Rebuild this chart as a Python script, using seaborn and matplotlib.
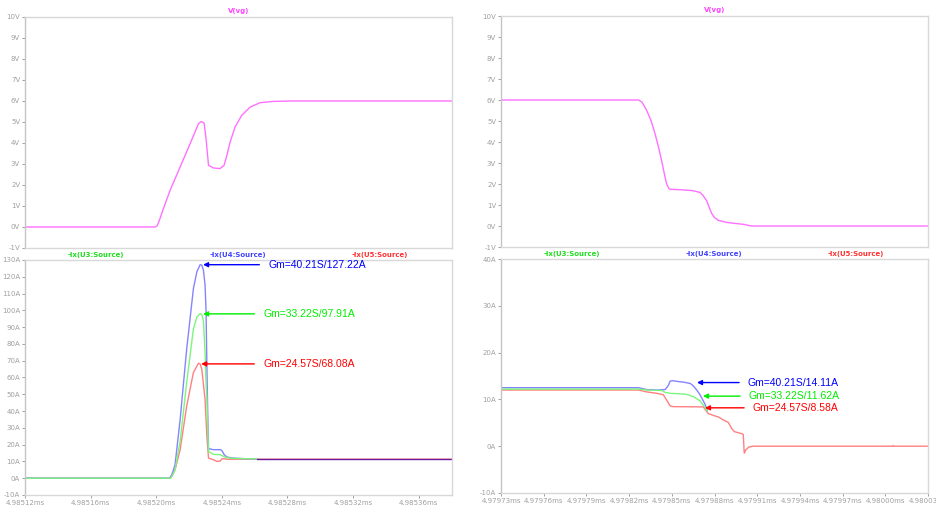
import matplotlib
matplotlib.use("Agg")
import matplotlib.pyplot as plt
import seaborn as sns

# ---- data (time in ns from the left edge of each window) ----
# turn-on window, starts at 4.98512ms
on_vg_t = [0, 79.3, 80.5, 81.4, 84.4, 88.5, 94.6, 100.7, 105.8, 107.4, 109.2, 110.4, 111.9,
           114.9, 119.0, 121.4, 123.1, 125.1, 128.1, 132.2, 137.3, 143.4, 151.5, 161.7, 260.4]
on_vg_v = [0, 0, 0.05, 0.2, 0.87, 1.75, 2.86, 3.97, 4.92, 5.02, 4.95, 4.2, 2.94,
           2.81, 2.78, 2.94, 3.41, 4.05, 4.76, 5.32, 5.71, 5.92, 5.98, 6.0, 6.0]

on_u4_t = [0, 87.5, 88.5, 89.5, 91.5, 94.6, 98.6, 102.7, 104.8, 106.8, 107.8, 108.8, 109.8,
           110.4, 110.9, 111.4, 111.9, 114.9, 119.0, 120.0, 121.5, 123.1, 127.1, 134.2, 141.4]
on_u4_i = [0, 0, 0.5, 2, 8, 35, 77, 113, 123, 127.2, 127, 124, 115,
           100, 67, 40, 17.6, 17, 17, 16.5, 14, 12.6, 12, 11.6, 11.5]

on_u3_t = [0, 88.5, 89.5, 91.5, 94.6, 98.6, 102.7, 104.8, 106.8, 107.8, 108.8, 109.8,
           110.4, 110.9, 111.4, 111.9, 114.9, 119.0, 120.0, 123.1, 127.1, 141.4]
on_u3_i = [0, 0, 1, 5, 22, 57, 89, 96, 98, 97.5, 94, 75,
           57, 48, 30, 16, 14.2, 14, 13.5, 12.2, 11.8, 11.5]

on_u5_t = [0, 88.5, 89.5, 91.5, 94.6, 98.6, 102.7, 105.8, 106.8, 107.8, 109.8, 110.9,
           111.9, 114.9, 117.0, 119.0, 120.0, 121.5, 123.1, 127.1, 260.4]
on_u5_i = [0, 0, 1, 5, 17, 43, 63, 68.5, 68.1, 65, 47, 25,
           12, 11, 10, 10.2, 11.5, 11.6, 11.3, 11.3, 11.3]

on_tail_t = [141.4, 260.4]
on_tail_i = [11.6, 11.6]

# turn-off window, starts at 4.97973ms
off_vg_t = [0, 96.6, 99.0, 102.4, 105.5, 108.2, 110.5, 112.9, 115.0, 116.4, 118.0, 118.8, 128.1,
            135.0, 139.8, 142.0, 144.5, 146.5, 148.0, 150.0, 152.7, 158.5, 165.0, 170.2, 176.1, 300]
off_vg_v = [6.0, 6.0, 5.9, 5.5, 5.0, 4.4, 3.8, 3.1, 2.4, 2.0, 1.78, 1.75, 1.72,
            1.68, 1.6, 1.45, 1.2, 0.85, 0.6, 0.4, 0.27, 0.17, 0.12, 0.08, 0.0, 0.0]

off_u4_t = [0, 96.6, 102.4, 110.0, 115.3, 117.6, 118.8, 120.5, 125.0, 128.1, 133.0,
            135.1, 137.5, 139.8, 143.3, 145.0]
off_u4_i = [12.5, 12.5, 12.1, 12.0, 12.1, 13.0, 13.9, 14.0, 13.8, 13.7, 13.4,
            12.9, 12.0, 11.0, 9.0, 7.6]

off_u3_t = [0, 96.6, 102.4, 113.0, 115.3, 118.8, 125.0, 130.0, 135.1, 139.8, 143.3, 145.0]
off_u3_i = [12.2, 12.2, 12.0, 11.9, 11.5, 11.3, 11.2, 11.1, 10.6, 9.7, 8.3, 7.5]

off_u5_t = [0, 96.6, 102.4, 109.4, 114.0, 116.5, 118.8, 121.0, 142.1, 145.5, 149.0, 153.0,
            156.2, 159.7, 162.0, 164.0, 169.0, 170.2, 170.9, 172.0, 174.0, 177.0, 275.0, 275.4,
            276.0, 300]
off_u5_i = [12.0, 12.0, 11.6, 11.3, 11.0, 9.8, 8.6, 8.45, 8.4, 7.0, 6.6, 6.2,
            5.6, 5.1, 3.8, 3.1, 2.7, 2.5, -1.5, -0.8, -0.2, 0.0, 0.0, 0.15,
            0.0, 0.0]

on_xticks = [0, 40, 80, 120, 160, 200, 240]
on_xlabels = ['4.98512ms', '4.98516ms', '4.98520ms', '4.98524ms', '4.98528ms', '4.98532ms', '4.98536ms']
off_xticks = [0, 30, 60, 90, 120, 150, 180, 210, 240, 270, 300]
off_xlabels = ['4.97973ms', '4.97976ms', '4.97979ms', '4.97982ms', '4.97985ms', '4.97988ms',
               '4.97991ms', '4.97994ms', '4.97997ms', '4.98000ms', '4.98003ms']

v_ticks = list(range(-1, 11))
on_i_ticks = list(range(-10, 131, 10))
off_i_ticks = list(range(-10, 41, 10))

trace_names = ['-Ix(U3:Source)', '-Ix(U4:Source)', '-Ix(U5:Source)']
on_notes = ['Gm=40.21S/127.22A', 'Gm=33.22S/97.91A', 'Gm=24.57S/68.08A']
off_notes = ['Gm=40.21S/14.11A', 'Gm=33.22S/11.62A', 'Gm=24.57S/8.58A']

# colours
c_vg = '#ff70ff'
c_u3, c_u4, c_u5 = '#7cf57c', '#8484ff', '#ff8080'
c_tail = '#6a1a9a'
note_cols = ['#0000ff', '#00ee00', '#ff0000']
trace_cols = ['#22dd22', '#4444ff', '#ff3333']

sns.set_style('white')
plt.rcParams['font.family'] = ['DejaVu Sans']

fig = plt.figure(figsize=(9.37, 5.13), dpi=100)
ax_on_v = fig.add_axes([0.0267, 0.5166, 0.4557, 0.4503])
ax_on_i = fig.add_axes([0.0267, 0.0351, 0.4557, 0.4581])
ax_off_v = fig.add_axes([0.5347, 0.5185, 0.4557, 0.4503])
ax_off_i = fig.add_axes([0.5347, 0.0390, 0.4557, 0.4561])

lw = 1.0
sns.lineplot(x=on_vg_t, y=on_vg_v, ax=ax_on_v, color=c_vg, lw=lw)
sns.lineplot(x=off_vg_t, y=off_vg_v, ax=ax_off_v, color=c_vg, lw=lw)

sns.lineplot(x=on_u5_t, y=on_u5_i, ax=ax_on_i, color=c_u5, lw=lw)
sns.lineplot(x=on_u4_t, y=on_u4_i, ax=ax_on_i, color=c_u4, lw=lw)
sns.lineplot(x=on_u3_t, y=on_u3_i, ax=ax_on_i, color=c_u3, lw=lw)
sns.lineplot(x=on_tail_t, y=on_tail_i, ax=ax_on_i, color=c_tail, lw=lw)

sns.lineplot(x=off_u5_t, y=off_u5_i, ax=ax_off_i, color=c_u5, lw=lw)
sns.lineplot(x=off_u4_t, y=off_u4_i, ax=ax_off_i, color=c_u4, lw=lw)
sns.lineplot(x=off_u3_t, y=off_u3_i, ax=ax_off_i, color=c_u3, lw=lw)


def style(ax, xmax, yticks, unit, xticks=None, xlabels=None):
    ax.set_xlim(0, xmax)
    ax.set_ylim(yticks[0], yticks[-1])
    ax.set_yticks(yticks)
    ax.set_yticklabels([f'{v}{unit}' for v in yticks])
    if xticks is None:
        ax.set_xticks([])
    else:
        ax.set_xticks(xticks)
        ax.set_xticklabels(xlabels)
    ax.tick_params(axis='both', labelsize=5, colors='#a0a0a0', length=2.5, width=0.7, pad=1,
                   direction='out', left=True, bottom=xticks is not None)
    for s in ax.spines.values():
        s.set_color('#d8d8d8')
        s.set_linewidth(1.0)
    ax.spines['left'].set_color('#c4c4c4')
    ax.set_xlabel('')
    ax.set_ylabel('')


style(ax_on_v, 260.4, v_ticks, 'V')
style(ax_off_v, 300, v_ticks, 'V')
style(ax_on_i, 260.4, on_i_ticks, 'A', on_xticks, on_xlabels)
style(ax_off_i, 300, off_i_ticks, 'A', off_xticks, off_xlabels)

for ax in (ax_on_v, ax_off_v):
    ax.text(0.5, 1.026, 'V(vg)', transform=ax.transAxes, ha='center', va='center',
            color='#ff44ff', fontsize=5, fontweight='bold')

for ax in (ax_on_i, ax_off_i):
    for xf, name, col in zip([0.166, 0.498, 0.832], trace_names, trace_cols):
        ax.text(xf, 1.021, name, transform=ax.transAxes, ha='center', va='center',
                color=col, fontsize=5, fontweight='bold')

# peak annotations: (tip x, tip y, text x)
on_pos = [(108.6, 127.2, 148.3), (108.6, 97.9, 145.2), (107.4, 68.1, 145.2)]
off_pos = [(137.7, 13.6, 173.5), (141.9, 10.7, 174.2), (143.3, 8.2, 177.0)]
for ax, notes, pos in ((ax_on_i, on_notes, on_pos), (ax_off_i, off_notes, off_pos)):
    for note, col, (tx, ty, lx) in zip(notes, note_cols, pos):
        ax.annotate(note, xy=(tx, ty), xytext=(lx, ty), textcoords='data',
                    ha='left', va='center', color=col, fontsize=7.5,
                    family=['Liberation Sans', 'DejaVu Sans'],
                    arrowprops=dict(arrowstyle='-|>', color=col, lw=1.0, mutation_scale=7,
                                    shrinkA=4, shrinkB=0, relpos=(0, 0.5)))

fig.savefig('out.png', dpi=100)
